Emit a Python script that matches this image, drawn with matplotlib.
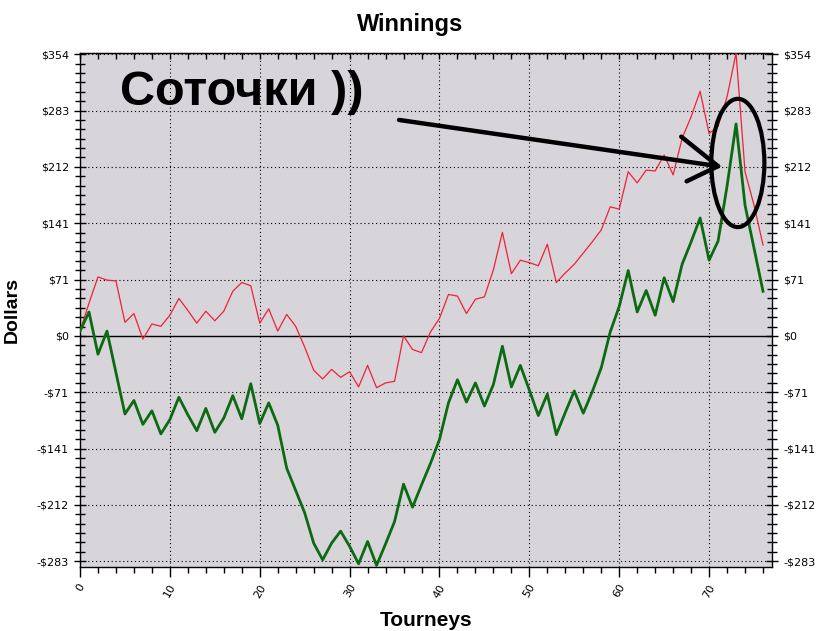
import matplotlib
matplotlib.use("Agg")
import matplotlib.pyplot as plt
from matplotlib.patches import Ellipse
from matplotlib.ticker import MultipleLocator, AutoMinorLocator
import numpy as np

# cumulative winnings per tourney
tourneys = np.arange(77)
red = [6, 41, 74, 70, 69, 17, 28, -4, 15, 12,
       26, 47, 32, 16, 31, 19, 31, 56, 67, 63,
       16, 34, 6, 27, 12, -14, -43, -54, -42, -52,
       -45, -64, -37, -65, -59, -57, 0, -17, -21, 5,
       22, 52, 50, 28, 46, 49, 83, 130, 78, 95,
       92, 88, 115, 67, 79, 90, 104, 118, 133, 162,
       159, 206, 192, 208, 207, 227, 202, 248, 275, 307,
       254, 263, 300, 355, 206, 164, 114]
green = [6, 30, -23, 6, -46, -98, -81, -111, -94, -123,
         -105, -77, -99, -119, -91, -121, -103, -75, -104, -60,
         -110, -84, -112, -166, -194, -222, -260, -281, -260, -245,
         -264, -286, -258, -288, -261, -233, -186, -215, -187, -160,
         -130, -84, -55, -83, -59, -88, -61, -13, -64, -37,
         -68, -100, -73, -124, -96, -69, -97, -70, -40, 5,
         37, 82, 30, 57, 26, 73, 43, 90, 118, 148,
         95, 119, 188, 266, 164, 110, 56]

y_step = 70.7
y_ticks = y_step * np.arange(-4, 6)
y_labels = ["-$283", "-$212", "-$141", "-$71", "$0", "$71", "$141", "$212", "$283", "$354"]

# hand-drawn annotation (data coords)
note_text = "Соточки ))"
arrow_shaft = [(35.5, 271), (71.0, 213)]
arrow_head = [(66.9, 250), (71.0, 213), (67.5, 194)]
ellipse_xy, ellipse_w, ellipse_h = (73.2, 217), 5.9, 161

fig = plt.figure(figsize=(8.3, 6.31), dpi=100)
ax = fig.add_axes([80 / 830, 1 - 567 / 631, 692 / 830, 514 / 631])
ax.set_facecolor("#d8d5da")

ax.plot(tourneys, red, color="#f0203a", lw=0.9, zorder=3)
ax.plot(tourneys, green, color="#0b6a12", lw=2.0, zorder=4)
ax.axhline(0, color="black", lw=1.0, zorder=2)

ax.set_xlim(0, 77)
ax.set_ylim(-290, 355)

ax.xaxis.set_major_locator(MultipleLocator(10))
ax.xaxis.set_minor_locator(MultipleLocator(2))
ax.set_yticks(y_ticks)
ax.set_yticklabels(y_labels)
ax.yaxis.set_minor_locator(AutoMinorLocator(6))

ax.grid(True, which="major", color="black", linestyle=(0, (1, 2.5)), lw=0.8, zorder=1)

ax.tick_params(axis="x", which="major", direction="out", length=7, width=1,
               labelsize=8, labelrotation=60, pad=4)
ax.tick_params(axis="x", which="minor", direction="out", length=4, width=1)
ax.tick_params(axis="y", which="both", left=True, right=True, labelleft=True,
               labelright=True, direction="inout", width=1, labelsize=8)
ax.tick_params(axis="y", which="major", length=9)
ax.tick_params(axis="y", which="minor", length=7)
for lab in ax.get_yticklabels() + ax.get_xticklabels():
    lab.set_family(["Liberation Sans Narrow", "DejaVu Sans"])

top = ax.secondary_xaxis("top")
top.xaxis.set_major_locator(MultipleLocator(10))
top.xaxis.set_minor_locator(MultipleLocator(2))
top.tick_params(which="both", direction="in", length=4, width=1, labeltop=False)

for s in ax.spines.values():
    s.set_linewidth(1)

# annotation
ax.text(4.5, 305, note_text, fontsize=35, fontweight="bold", family="Liberation Sans",
        va="center", ha="left", zorder=6)
xs, ys = zip(*arrow_shaft)
ax.plot(xs, ys, color="black", lw=3.2, solid_capstyle="round", zorder=6)
xs, ys = zip(*arrow_head)
ax.plot(xs, ys, color="black", lw=3.2, solid_capstyle="round", solid_joinstyle="round", zorder=6)
ax.add_patch(Ellipse(ellipse_xy, ellipse_w, ellipse_h, fill=False, ec="black", lw=3.0, zorder=6))

fig.text(410 / 830, 1 - 24 / 631, "Winnings", ha="center", va="center",
         fontsize=17, fontweight="bold", family="Liberation Sans")
fig.text(426 / 830, 1 - 620 / 631, "Tourneys", ha="center", va="center",
         fontsize=15, fontweight="bold", family="Liberation Sans")
fig.text(12 / 830, 1 - 310 / 631, "Dollars", ha="center", va="center", rotation=90,
         fontsize=14, fontweight="bold", family="Liberation Sans")

fig.savefig("out.png", dpi=100, facecolor="white")
